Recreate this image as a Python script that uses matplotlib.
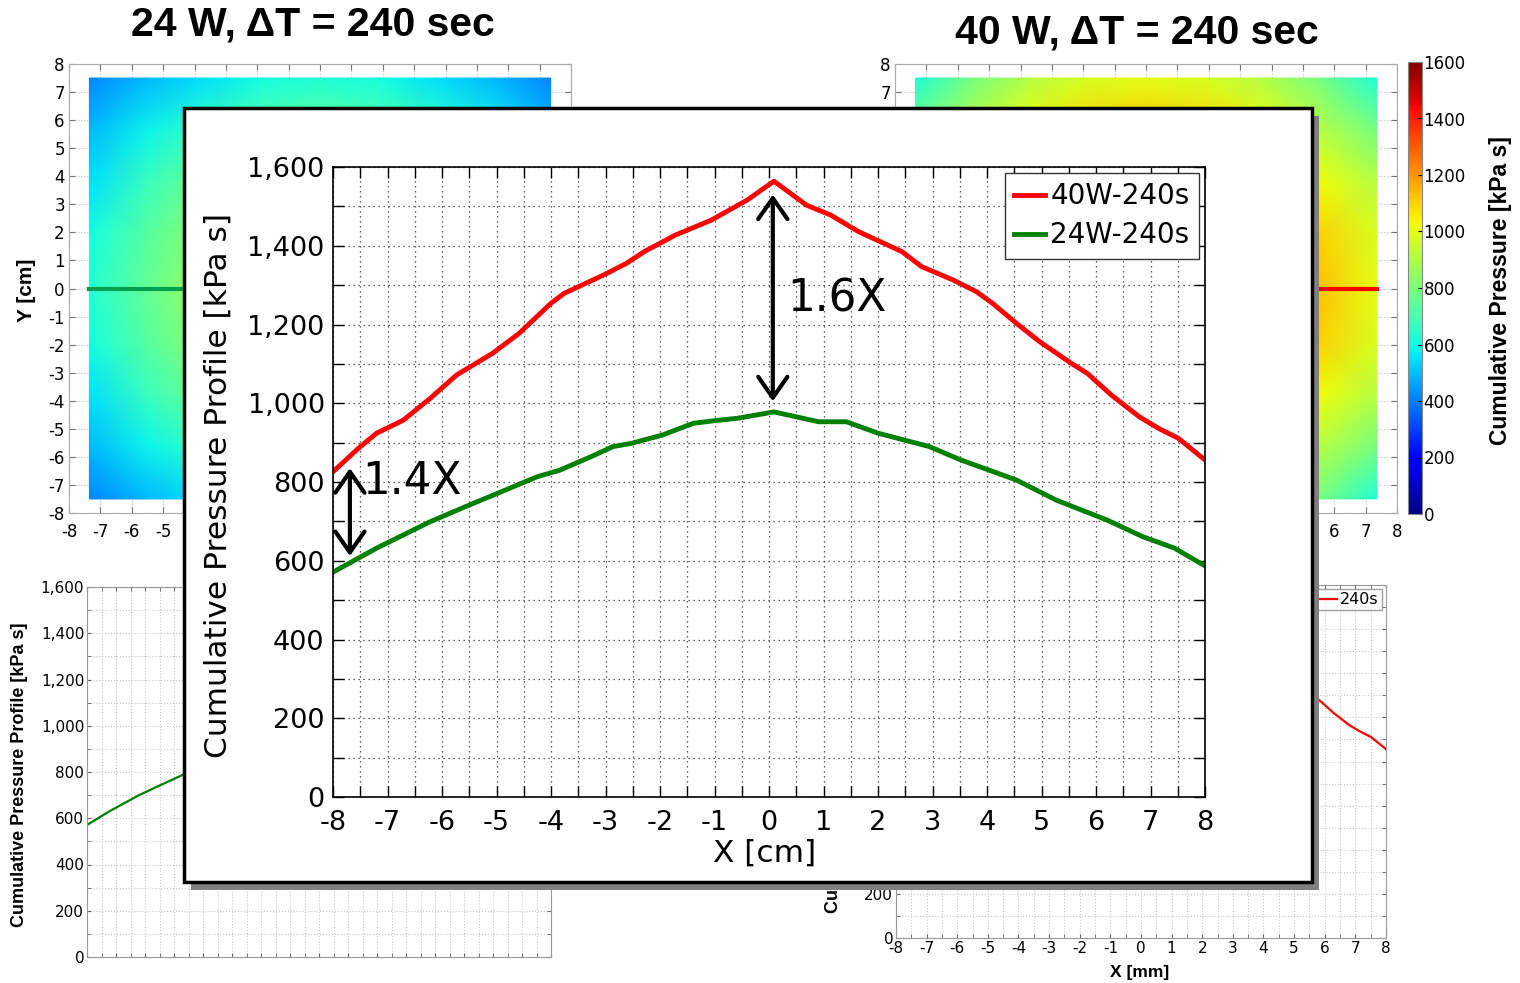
import numpy as np
import matplotlib.pyplot as plt
from matplotlib.patches import Rectangle
from matplotlib.ticker import MultipleLocator, FuncFormatter

plt.rcParams['axes.unicode_minus'] = False

# Cumulative pressure profile along y = 0 (x in cm, kPa s)
x_40w = [-8, -7.53, -7.2, -6.71, -6.22, -5.73, -5.07, -4.58, -4.0, -3.76, -3.03,
         -2.62, -2.29, -1.72, -1.06, -0.40, 0.09, 0.69, 1.13, 1.64, 2.44, 2.80,
         3.38, 3.81, 4.10, 4.54, 4.97, 5.55, 5.84, 6.28, 6.79, 7.15, 7.51, 8.0]
p_40w = [826, 886, 924, 957, 1012, 1072, 1127, 1178, 1254, 1279, 1326,
         1355, 1385, 1427, 1465, 1516, 1564, 1503, 1478, 1436, 1385, 1347,
         1313, 1283, 1254, 1203, 1156, 1101, 1076, 1021, 966, 936, 911, 856]

x_24w = [-8, -7.2, -6.22, -5.49, -4.83, -4.26, -3.84, -3.27, -2.86, -2.53, -1.96,
         -1.39, -0.98, -0.57, 0.09, 0.91, 1.42, 2.0, 2.94, 3.52, 4.54, 5.27,
         6.21, 6.86, 7.44, 8.0]
p_24w = [571, 632, 699, 742, 780, 813, 830, 864, 890, 898, 919,
         949, 956, 962, 978, 953, 953, 924, 890, 856, 805, 754,
         703, 661, 632, 587]

# 2D maps: node values (rows from y=-7.5 to y=7.5)
map_x = [-7.35, -5.5, -3.7, -1.85, 0, 1.85, 3.7, 5.5, 7.35]
map_y = [-7.5, -5.6, -3.75, -1.9, 0, 1.9, 3.75, 5.6, 7.5]
map_24w = [
    [410, 490, 555, 600, 620, 600, 555, 490, 410],
    [490, 585, 670, 725, 750, 725, 670, 585, 490],
    [555, 670, 770, 835, 865, 835, 770, 670, 555],
    [600, 725, 835, 905, 930, 905, 835, 725, 600],
    [630, 750, 865, 930, 975, 930, 865, 750, 630],
    [600, 725, 835, 905, 930, 905, 835, 725, 600],
    [555, 670, 770, 835, 865, 835, 770, 670, 555],
    [490, 585, 670, 725, 750, 725, 670, 585, 490],
    [410, 490, 555, 600, 620, 600, 555, 490, 410],
]
map_40w = [
    [620, 790, 910, 980, 1000, 980, 910, 790, 620],
    [790, 920, 1030, 1100, 1130, 1100, 1030, 920, 790],
    [910, 1030, 1160, 1260, 1300, 1260, 1160, 1030, 910],
    [980, 1100, 1260, 1380, 1440, 1380, 1260, 1100, 980],
    [1000, 1130, 1300, 1440, 1565, 1440, 1300, 1130, 1000],
    [980, 1100, 1260, 1380, 1440, 1380, 1260, 1100, 980],
    [910, 1030, 1160, 1260, 1300, 1260, 1160, 1030, 910],
    [790, 920, 1030, 1100, 1130, 1100, 1030, 920, 790],
    [620, 790, 910, 980, 1000, 980, 910, 790, 620],
]

W, H = 1520, 983
BOLD = ['Liberation Sans', 'DejaVu Sans']


def rect(x0, y0, x1, y1):
    # pixel box (top-left origin) -> figure fraction
    return [x0 / W, 1 - y1 / H, (x1 - x0) / W, (y1 - y0) / H]


def ftext(px, py, s, **kw):
    return fig.text(px / W, 1 - py / H, s, ha='center', va='center', **kw)


def only_labels(ticks, keep):
    # labels hidden behind the inset are left blank
    return [str(t) if t in keep else '' for t in ticks]


comma = FuncFormatter(lambda v, p: f'{int(v):,}')
ticks16 = list(range(-8, 9))

fig = plt.figure(figsize=(15.2, 9.83), dpi=100)


def style_map(ax):
    ax.set_xlim(-8, 8)
    ax.set_ylim(-8, 8)
    ax.set_xticks(ticks16)
    ax.set_yticks(ticks16)
    ax.tick_params(direction='in', length=4, color='#777777', labelsize=12,
                   top=True, right=True)
    ax.tick_params(axis='x', pad=7)
    ax.tick_params(axis='y', pad=3)
    ax.grid(True, linestyle=':', color='#bbbbbb', lw=0.8)
    ax.set_axisbelow(True)
    for s in ax.spines.values():
        s.set_color('#aaaaaa')


def style_small(ax):
    ax.set_xlim(-8, 8)
    ax.set_ylim(0, 1600)
    ax.xaxis.set_major_locator(MultipleLocator(1))
    ax.xaxis.set_minor_locator(MultipleLocator(0.5))
    ax.yaxis.set_major_locator(MultipleLocator(200))
    ax.yaxis.set_minor_locator(MultipleLocator(100))
    ax.yaxis.set_major_formatter(comma)
    ax.tick_params(which='both', direction='in', length=3, color='#666666',
                   top=True, right=True, labelsize=11, pad=2)
    ax.grid(True, which='both', linestyle=':', color='#c8c8c8', lw=0.8)
    for s in ax.spines.values():
        s.set_color('#999999')


# ---- top-left map (24 W)
ax_tl = fig.add_axes(rect(69, 64, 571, 513))
ax_tl.pcolormesh(map_x, map_y, map_24w, cmap='jet', vmin=0, vmax=1600,
                 shading='gouraud')
ax_tl.plot([-7.35, 7.35], [0, 0], color='#00a050', lw=3)
style_map(ax_tl)
ax_tl.set_xticklabels(only_labels(ticks16, [-8, -7, -6, -5, -4]))
ftext(27, 290, 'Y [cm]', rotation=90, fontsize=15, fontweight='bold', family=BOLD)
ftext(313, 25, '24 W, ΔT = 240 sec', fontsize=29.5, fontweight='bold', family=BOLD)

# ---- top-right map (40 W)
ax_tr = fig.add_axes(rect(895, 64, 1397, 513))
mesh = ax_tr.pcolormesh(map_x, map_y, map_40w, cmap='jet', vmin=0, vmax=1600,
                        shading='gouraud')
ax_tr.plot([-7.35, 7.35], [0, 0], color='red', lw=3)
style_map(ax_tr)
ax_tr.set_xticklabels(only_labels(ticks16, [6, 7, 8]))
ax_tr.set_yticklabels(only_labels(ticks16, [7, 8]))
ftext(1137, 32, '40 W, ΔT = 240 sec', fontsize=29.5, fontweight='bold', family=BOLD)

cax = fig.add_axes(rect(1408, 62, 1422, 514))
cb = fig.colorbar(mesh, cax=cax)
cb.set_ticks(range(0, 1601, 200))
cb.ax.tick_params(labelsize=12, direction='in', length=3, pad=1)
cb.outline.set_edgecolor('#888888')
ftext(1500, 291, 'Cumulative Pressure [kPa s]', rotation=90, fontsize=16.5,
      fontweight='bold', family=BOLD)

# ---- bottom-left profile (24 W)
ax_bl = fig.add_axes(rect(87, 587, 551, 957))
ax_bl.plot(x_24w, p_24w, color='#008000', lw=1.6)
style_small(ax_bl)
ax_bl.tick_params(axis='x', labelbottom=False)
ftext(20, 775, 'Cumulative Pressure Profile [kPa s]', rotation=90, fontsize=13,
      fontweight='bold', family=BOLD)

# ---- bottom-right profile (40 W)
ax_br = fig.add_axes(rect(896, 585, 1386, 938))
ax_br.plot(x_40w, p_40w, color='red', lw=1.6, label='240s')
style_small(ax_br)
ax_br.set_yticks(range(0, 1601, 200))
ax_br.set_yticklabels(only_labels(range(0, 1601, 200), [0, 200]))
ax_br.legend(loc='upper right', fontsize=11.5, fancybox=False, edgecolor='#888888',
             handlelength=3.0, handletextpad=0.2, borderaxespad=0.25, borderpad=0.2)
ylab_br = ftext(833, 761, 'Cumulative Pressure Profile [kPa s]', rotation=90,
                fontsize=13, fontweight='bold', family=BOLD)
ftext(1140, 972, 'X [mm]', fontsize=12.5, fontweight='bold', family=BOLD)

# ---- inset box with shadow
bx = rect(184, 108, 1312, 882)
fig.add_artist(Rectangle((bx[0] + 7 / W, bx[1] - 8 / H), bx[2], bx[3],
                         transform=fig.transFigure, facecolor='#808080',
                         edgecolor='none', zorder=5))
fig.add_artist(Rectangle((bx[0], bx[1]), bx[2], bx[3], transform=fig.transFigure,
                         facecolor='white', edgecolor='black', lw=2.5, zorder=6))

# ---- main comparison plot
ax = fig.add_axes(rect(333, 167, 1205, 797))
ax.set_zorder(7)
ax.plot(x_40w, p_40w, color='red', lw=3.5, label='40W-240s')
ax.plot(x_24w, p_24w, color='#008000', lw=3.5, label='24W-240s')
ax.set_xlim(-8, 8)
ax.set_ylim(0, 1600)
ax.xaxis.set_major_locator(MultipleLocator(1))
ax.xaxis.set_minor_locator(MultipleLocator(0.5))
ax.yaxis.set_major_locator(MultipleLocator(200))
ax.yaxis.set_minor_locator(MultipleLocator(100))
ax.yaxis.set_major_formatter(comma)
ax.tick_params(which='both', direction='in', length=8, width=1, top=True, right=True)
ax.tick_params(axis='y', labelsize=19.5, pad=6)
ax.tick_params(axis='x', labelsize=19.5, pad=9)
ax.grid(True, which='both', linestyle=(0, (1, 3)), color='#333333', lw=0.9)
for s in ax.spines.values():
    s.set_linewidth(1.2)

ax.legend(loc='upper right', fontsize=20, fancybox=False, edgecolor='#333333',
          framealpha=1, handlelength=1.1, handletextpad=0.2, borderaxespad=0.2,
          labelspacing=0.4, borderpad=0.35)

arrow = dict(arrowstyle='<->, head_length=0.5, head_width=0.35', lw=3,
             color='black', mutation_scale=30, shrinkA=0, shrinkB=0)
ax.annotate('', xy=(0.07, 1530), xytext=(0.07, 1005), arrowprops=arrow)
ax.annotate('', xy=(-7.69, 835), xytext=(-7.69, 612), arrowprops=arrow)
ax.text(0.33, 1265, '1.6X', fontsize=31.5, va='center', ha='left')
ax.text(-7.47, 800, '1.4X', fontsize=31.5, va='center', ha='left')

ftext(218, 486, 'Cumulative Pressure Profile [kPa s]', rotation=90, fontsize=22.5,
      zorder=8)
ftext(765, 853, 'X [cm]', fontsize=22.5, zorder=8)

fig.savefig('out.png', dpi=100)
